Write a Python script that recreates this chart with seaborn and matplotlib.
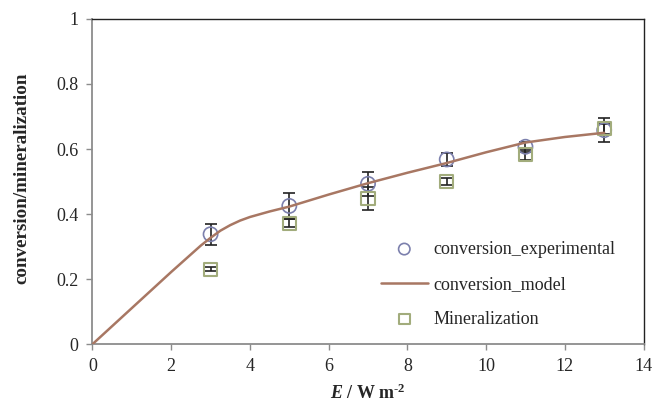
import numpy as np
import pandas as pd
import seaborn as sns
import matplotlib
matplotlib.use("Agg")
import matplotlib.pyplot as plt

# measured points
E_exp = [3, 5, 7, 9, 11, 13]
conv_exp = [0.338, 0.425, 0.493, 0.568, 0.607, 0.658]
conv_err = [0.033, 0.040, 0.037, 0.020, 0.015, 0.036]
miner = [0.230, 0.372, 0.449, 0.500, 0.582, 0.662]
miner_err = [0.006, 0.012, 0.035, 0.010, 0.015, 0.015]

# model curve
E_model = [0, 1, 2, 2.75, 3, 3.25, 3.5, 3.75, 4, 4.5, 5, 6, 7, 8, 9, 10, 11, 12, 13]
conv_model = [0, 0.111, 0.222, 0.303, 0.327, 0.349, 0.366, 0.380, 0.391, 0.408,
              0.423, 0.460, 0.495, 0.527, 0.557, 0.590, 0.620, 0.637, 0.650]

sns.set_theme(style="white")
plt.rcParams["font.family"] = ["Liberation Serif", "DejaVu Serif"]
plt.rcParams["mathtext.fontset"] = "custom"
plt.rcParams["mathtext.rm"] = "Liberation Serif"
plt.rcParams["mathtext.bf"] = "Liberation Serif:bold"
plt.rcParams["mathtext.it"] = "Liberation Serif:italic"
plt.rcParams["mathtext.bfit"] = "Liberation Serif:italic:bold"

df_exp = pd.DataFrame({"E": E_exp, "conv": conv_exp, "miner": miner})
df_model = pd.DataFrame({"E": E_model, "conv": conv_model})

fig = plt.figure(figsize=(6.56, 4.03), dpi=100)
ax = fig.add_axes([0.141, 0.146, 0.840, 0.807])

c_circ = "#7c80ad"
c_line = "#a87763"
c_sq = "#a2ac7c"

ax.errorbar(E_exp, conv_exp, yerr=conv_err, fmt="none", ecolor="#222222",
            elinewidth=1.2, capsize=4, capthick=1.2, zorder=2)
ax.errorbar(E_exp, miner, yerr=miner_err, fmt="none", ecolor="#222222",
            elinewidth=1.2, capsize=4, capthick=1.2, zorder=2)

sns.scatterplot(data=df_exp, x="E", y="conv", ax=ax, marker="o", s=105,
                facecolor="none", edgecolor=c_circ, linewidth=1.2,
                label="conversion_experimental", zorder=3)
sns.lineplot(data=df_model, x="E", y="conv", ax=ax, color=c_line, lw=1.8,
             label="conversion_model", zorder=4)
sns.scatterplot(data=df_exp, x="E", y="miner", ax=ax, marker="s", s=90,
                facecolor="none", edgecolor=c_sq, linewidth=1.5,
                label="Mineralization", zorder=3)

ax.set_xlim(0, 14)
ax.set_ylim(0, 1)
ax.set_xticks(range(0, 15, 2))
ax.set_yticks([0, 0.2, 0.4, 0.6, 0.8, 1])
ax.set_yticklabels(["0", "0.2", "0.4", "0.6", "0.8", "1"])

for s in ["left", "bottom"]:
    ax.spines[s].set_color("#8c8c8c")
    ax.spines[s].set_linewidth(1.3)
for s in ["top", "right"]:
    ax.spines[s].set_color("#222222")
    ax.spines[s].set_linewidth(1.0)

ax.tick_params(axis="both", which="both", direction="out", length=4,
               width=1, color="#8c8c8c", labelsize=13, pad=6, left=True,
               bottom=True)

ax.set_xlabel("$\\bfit{E}$ / W m$^{\\mathbf{\u2010}\\mathbf{2}}$", fontsize=13,
              fontweight="bold", labelpad=6)
ax.set_ylabel("conversion/mineralization", fontsize=13.7, fontweight="bold")
ax.yaxis.set_label_coords(-0.113, 0.51)

leg = ax.legend(loc="lower right", bbox_to_anchor=(0.978, 0.0), frameon=False,
                fontsize=13, handlelength=2.6, labelspacing=1.0,
                handletextpad=0.3, markerscale=0.8)

fig.savefig("out.png", dpi=100)
